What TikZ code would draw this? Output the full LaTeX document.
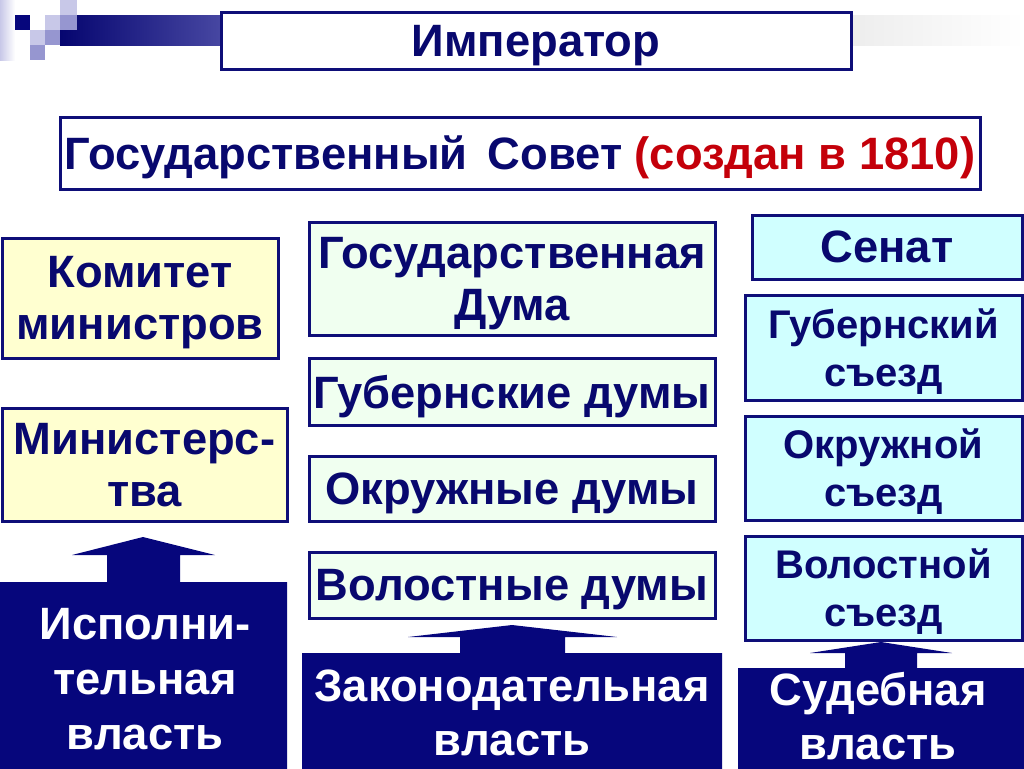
\documentclass[tikz,border=0pt]{standalone}
\usepackage{fontspec}
\setmainfont{Liberation Sans}
\usepackage{tikz}

\definecolor{txtnavy}{RGB}{8,8,110}
\definecolor{bordnavy}{RGB}{14,14,120}
\definecolor{darkfill}{RGB}{6,6,124}
\definecolor{redtxt}{RGB}{196,0,10}
\definecolor{yelfill}{RGB}{255,255,208}
\definecolor{mintfill}{RGB}{240,255,240}
\definecolor{cyanfill}{RGB}{208,255,255}
\definecolor{lavlight}{RGB}{200,200,232}
\definecolor{lavmid}{RGB}{150,150,208}

\tikzset{
  every node/.style={font=\bfseries\fontsize{34}{39}\selectfont, text=txtnavy, align=center, inner sep=0pt},
  pbox/.style={draw=bordnavy, line width=2.25pt, text depth=0pt},
  yelbox/.style={pbox, fill=yelfill},
  mintbox/.style={pbox, fill=mintfill},
  cyanbox/.style={pbox, fill=cyanfill},
  whitebox/.style={pbox, fill=white},
  sezdtxt/.style={font=\bfseries\fontsize{30}{36}\selectfont},
  powertxt/.style={text=white, font=\bfseries\fontsize{34}{40}\selectfont}
}

\begin{document}
\begin{tikzpicture}[x=0.75pt,y=0.75pt,yscale=-1,xscale=1]
\useasboundingbox (0,0) rectangle (1024,768);

%Shape: corner squares
\shade[left color=lavlight, right color=white] (0,0) rectangle (15,60);
\fill[darkfill] (15,15) rectangle (30,30);
\fill[lavlight] (45,15) rectangle (60,30);
\fill[lavlight] (30,30) rectangle (45,45);
\fill[lavmid] (45,30) rectangle (60,45);
\fill[lavmid] (30,45) rectangle (45,60);
%Shape: title bar
\shade[left color=darkfill!90!black, right color=darkfill!55!lavmid] (60,15) rectangle (221,45);
\fill[lavlight] (60,0) rectangle (77,15);
\fill[lavmid] (60,15) rectangle (77,30);
\shade[left color=black!7, right color=white] (851,15) rectangle (1024,45);

% Top boxes
\node[whitebox, minimum width=630*0.75pt, minimum height=57*0.75pt] (emperor) at (536,40.5) {Император};
\node[whitebox, minimum width=920*0.75pt, minimum height=72*0.75pt] (council) at (520,153) {Государственный\, Совет \textcolor{redtxt}{(создан в 1810)}};

% Left column
\node[yelbox, minimum width=276*0.75pt, minimum height=120*0.75pt] (committee) at (140,298) {Комитет\\министров};
\node[yelbox, minimum width=285*0.75pt, minimum height=113*0.75pt] (ministries) at (144.5,464.5) {Министерс-\\тва};

% Middle column
\node[mintbox, minimum width=406*0.75pt, minimum height=113*0.75pt] (stateduma) at (512,278.5) {Государственная\\Дума};
\node[mintbox, minimum width=406*0.75pt, minimum height=67*0.75pt] (provduma) at (512,391.5) {Губернские думы};
\node[mintbox, minimum width=406*0.75pt, minimum height=65*0.75pt] (distduma) at (512,488.5) {Окружные думы};
\node[mintbox, minimum width=406*0.75pt, minimum height=66*0.75pt] (volduma) at (512,585) {Волостные думы};

% Right column
\node[cyanbox, minimum width=270*0.75pt, minimum height=64*0.75pt] (senate) at (887,247) {Сенат};
\node[cyanbox, sezdtxt, minimum width=277*0.75pt, minimum height=105*0.75pt] (provcongress) at (883.5,347.5) {Губернский\\съезд};
\node[cyanbox, sezdtxt, minimum width=277*0.75pt, minimum height=104*0.75pt] (distcongress) at (883.5,468) {Окружной\\съезд};
\node[cyanbox, sezdtxt, minimum width=277*0.75pt, minimum height=104*0.75pt] (volcongress) at (883.5,588) {Волостной\\съезд};

%Shape: block arrows with bases
\fill[darkfill] (0,770) -- (0,582) -- (107,582) -- (107,555) -- (72,555) -- (143,537) -- (215,555) -- (180,555) -- (180,582) -- (287,582) -- (287,770) -- cycle;
\fill[darkfill] (302,770) -- (302,653) -- (460,653) -- (460,637) -- (408,637) -- (512,625) -- (617,637) -- (565,637) -- (565,653) -- (722,653) -- (722,770) -- cycle;
\fill[darkfill] (738,770) -- (738,668) -- (845,668) -- (845,653) -- (810,653) -- (881,642) -- (952,653) -- (917,653) -- (917,668) -- (1024,668) -- (1024,770) -- cycle;

% Text Node
\node[powertxt, font=\bfseries\fontsize{34}{41}\selectfont] (executive) at (145,679) {Исполни-\\тельная\\власть};
% Text Node
\node[powertxt] (legislative) at (512,713) {Законодательная\\власть};
% Text Node
\node[powertxt] (judicial) at (878,716) {Судебная\\власть};

\end{tikzpicture}
\end{document}
